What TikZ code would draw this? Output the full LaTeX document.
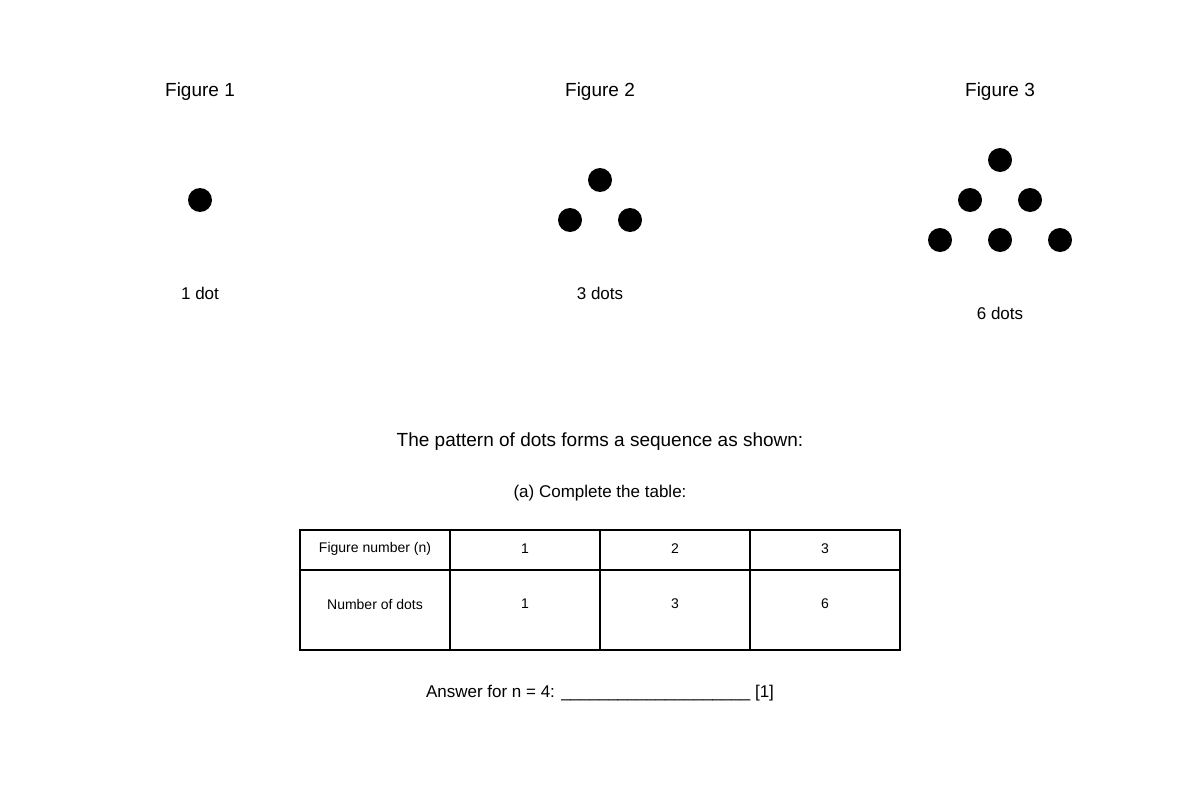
\documentclass[tikz,border=0pt]{standalone}
\usepackage{fontspec}
\setmainfont{Liberation Sans}
\begin{document}
\begin{tikzpicture}[x=1pt,y=-1pt,
  dot/.style={circle,fill=black,minimum size=24pt,inner sep=0pt},
  lbl/.style={font=\fontsize{17}{20}\selectfont,inner sep=0pt},
  ttl/.style={font=\fontsize{19}{22}\selectfont,inner sep=0pt},
  cell/.style={font=\fontsize{14}{16}\selectfont,inner sep=0pt}]
\useasboundingbox (0,0) rectangle (1200,800);
\node[ttl] (t1) at (200,92) {Figure 1};
\node[ttl] (t2) at (600,92) {Figure 2};
\node[ttl] (t3) at (1000,92) {Figure 3};
\node[dot] (a1) at (200,200) {};
\node[dot] (b1) at (600,180) {};
\node[dot] (b2) at (570,220) {};
\node[dot] (b3) at (630,220) {};
\node[dot] (c1) at (1000,160) {};
\node[dot] (c2) at (970,200) {};
\node[dot] (c3) at (1030,200) {};
\node[dot] (c4) at (940,240) {};
\node[dot] (c5) at (1000,240) {};
\node[dot] (c6) at (1060,240) {};
\node[lbl] (l1) at (200,293) {1 dot};
\node[lbl] (l2) at (600,293) {3 dots};
\node[lbl] (l3) at (1000,313) {6 dots};
\node[ttl] (s) at (600,442) {The pattern of dots forms a sequence as shown:};
\node[lbl] (q) at (600,493) {(a) Complete the table:};
\draw[line width=1.5pt] (300,530) rectangle (900,650);
\draw[line width=1.5pt] (300,570) -- (900,570);
\foreach \x in {450,600,750} \draw[line width=1.5pt] (\x,530) -- (\x,650);
\node[cell] (h0) at (375,549) {Figure number (n)};
\node[cell] (h1) at (525,549) {1};
\node[cell] (h2) at (675,549) {2};
\node[cell] (h3) at (825,549) {3};
\node[cell] (r0) at (375,604) {Number of dots};
\node[cell] (r1) at (525,604) {1};
\node[cell] (r2) at (675,604) {3};
\node[cell] (r3) at (825,604) {6};
\node[lbl] (ans) at (600,693) {Answer for n = 4: \_\_\_\_\_\_\_\_\_\_\_\_\_\_\_\_\_\_\_\_ [1]};
\end{tikzpicture}
\end{document}
